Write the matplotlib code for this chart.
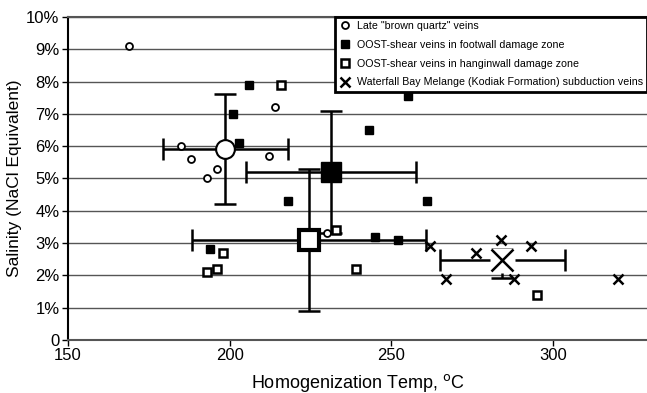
import numpy as np
import matplotlib.pyplot as plt

plt.rcParams['font.family'] = ['Liberation Sans', 'DejaVu Sans']

# Late "brown quartz" veins
bq_t = [169, 185, 188, 196, 193, 214, 212, 230]
bq_s = [9.1, 6.0, 5.6, 5.3, 5.0, 7.2, 5.7, 3.3]
bq_mean = (198.6, 5.9)
bq_err = (19.3, 1.7)

# OOST-shear veins in footwall damage zone
fw_t = [206, 201, 203, 218, 194, 243, 261, 245, 252, 255]
fw_s = [7.9, 7.0, 6.1, 4.3, 2.8, 6.5, 4.3, 3.2, 3.1, 7.55]
fw_mean = (231.2, 5.2)
fw_err = (26.3, 1.9)

# OOST-shear veins in hangingwall damage zone
hw_t = [216, 198, 193, 196, 233, 239, 295]
hw_s = [7.9, 2.7, 2.1, 2.2, 3.4, 2.2, 1.4]
hw_mean = (224.4, 3.1)
hw_err = (36.2, 2.2)

# Waterfall Bay Melange subduction veins
wb_t = [262, 276, 284, 293, 267, 288, 320]
wb_s = [2.9, 2.7, 3.1, 2.9, 1.9, 1.9, 1.9]
wb_mean = (284.3, 2.46)
wb_err = (19.3, [[0.54], [0.36]])

fig = plt.figure(figsize=(6.47, 3.93), dpi=100)
ax = fig.add_axes([0.105, 0.135, 0.895, 0.822])

ax.set_xlim(150, 329)
ax.set_ylim(0, 10)
ax.set_yticks(range(0, 11))
ax.set_yticklabels(["0"] + [f"{i}%" for i in range(1, 11)])
ax.set_xticks([150, 200, 250, 300])
ax.yaxis.grid(True, color='#555555', linewidth=1.0)
ax.set_axisbelow(True)
ax.spines['right'].set_visible(False)
ax.spines['top'].set_color('#555555')
ax.spines['top'].set_linewidth(1.5)
ax.spines['left'].set_linewidth(1.5)
ax.spines['bottom'].set_linewidth(1.5)
ax.spines['bottom'].set_color('#555555')
ax.tick_params(axis='both', labelsize=12, direction='out', length=4, width=1, pad=2)

# error bars
eb = dict(fmt='none', ecolor='black', elinewidth=1.8, capsize=8, capthick=1.8, zorder=3)
ax.errorbar(bq_mean[0], bq_mean[1], xerr=bq_err[0], yerr=bq_err[1], **eb)
ax.errorbar(fw_mean[0], fw_mean[1], xerr=fw_err[0], yerr=fw_err[1], **eb)
ax.errorbar(hw_mean[0], hw_mean[1], xerr=hw_err[0], yerr=hw_err[1], **eb)
ax.errorbar(wb_mean[0], wb_mean[1], xerr=wb_err[0], yerr=wb_err[1], **eb)

# individual points
ax.plot(bq_t, bq_s, 'o', ms=5, mfc='white', mec='black', mew=1.3, ls='none', zorder=4,
        label='Late "brown quartz" veins')
ax.plot(fw_t, fw_s, 's', ms=6, mfc='black', mec='black', ls='none', zorder=4,
        label='OOST-shear veins in footwall damage zone')
ax.plot(hw_t, hw_s, 's', ms=6, mfc='white', mec='black', mew=1.8, ls='none', zorder=4,
        label='OOST-shear veins in hanginwall damage zone')
ax.plot(wb_t, wb_s, 'x', ms=7, mec='black', mew=1.8, ls='none', zorder=4,
        label='Waterfall Bay Melange (Kodiak Formation) subduction veins')

# mean markers
ax.plot(*bq_mean, 'o', ms=13.5, mfc='white', mec='black', mew=1.5, zorder=5)
ax.plot(*fw_mean, 's', ms=14, mfc='black', mec='black', zorder=5)
ax.plot(*hw_mean, 's', ms=14, mfc='white', mec='black', mew=3, zorder=5)
ax.plot(*wb_mean, 's', ms=18, mfc='white', mec='none', zorder=4.5)
ax.plot(*wb_mean, 'x', ms=16, mec='black', mew=1.8, zorder=5)

leg = ax.legend(loc='upper right', bbox_to_anchor=(1.0, 1.0), fontsize=7.7, frameon=True,
                fancybox=False, edgecolor='black', framealpha=1, borderpad=0.4,
                handlelength=1.0, handletextpad=0.6, labelspacing=0.82, borderaxespad=0.0)
leg.get_frame().set_linewidth(2)

ax.set_xlabel('Homogenization Temp, $^{\\rm o}$C', fontsize=13, labelpad=6)
ax.set_ylabel('Salinity (NaCl Equivalent)', fontsize=12.5, labelpad=3)

fig.savefig('out.png', dpi=100)
